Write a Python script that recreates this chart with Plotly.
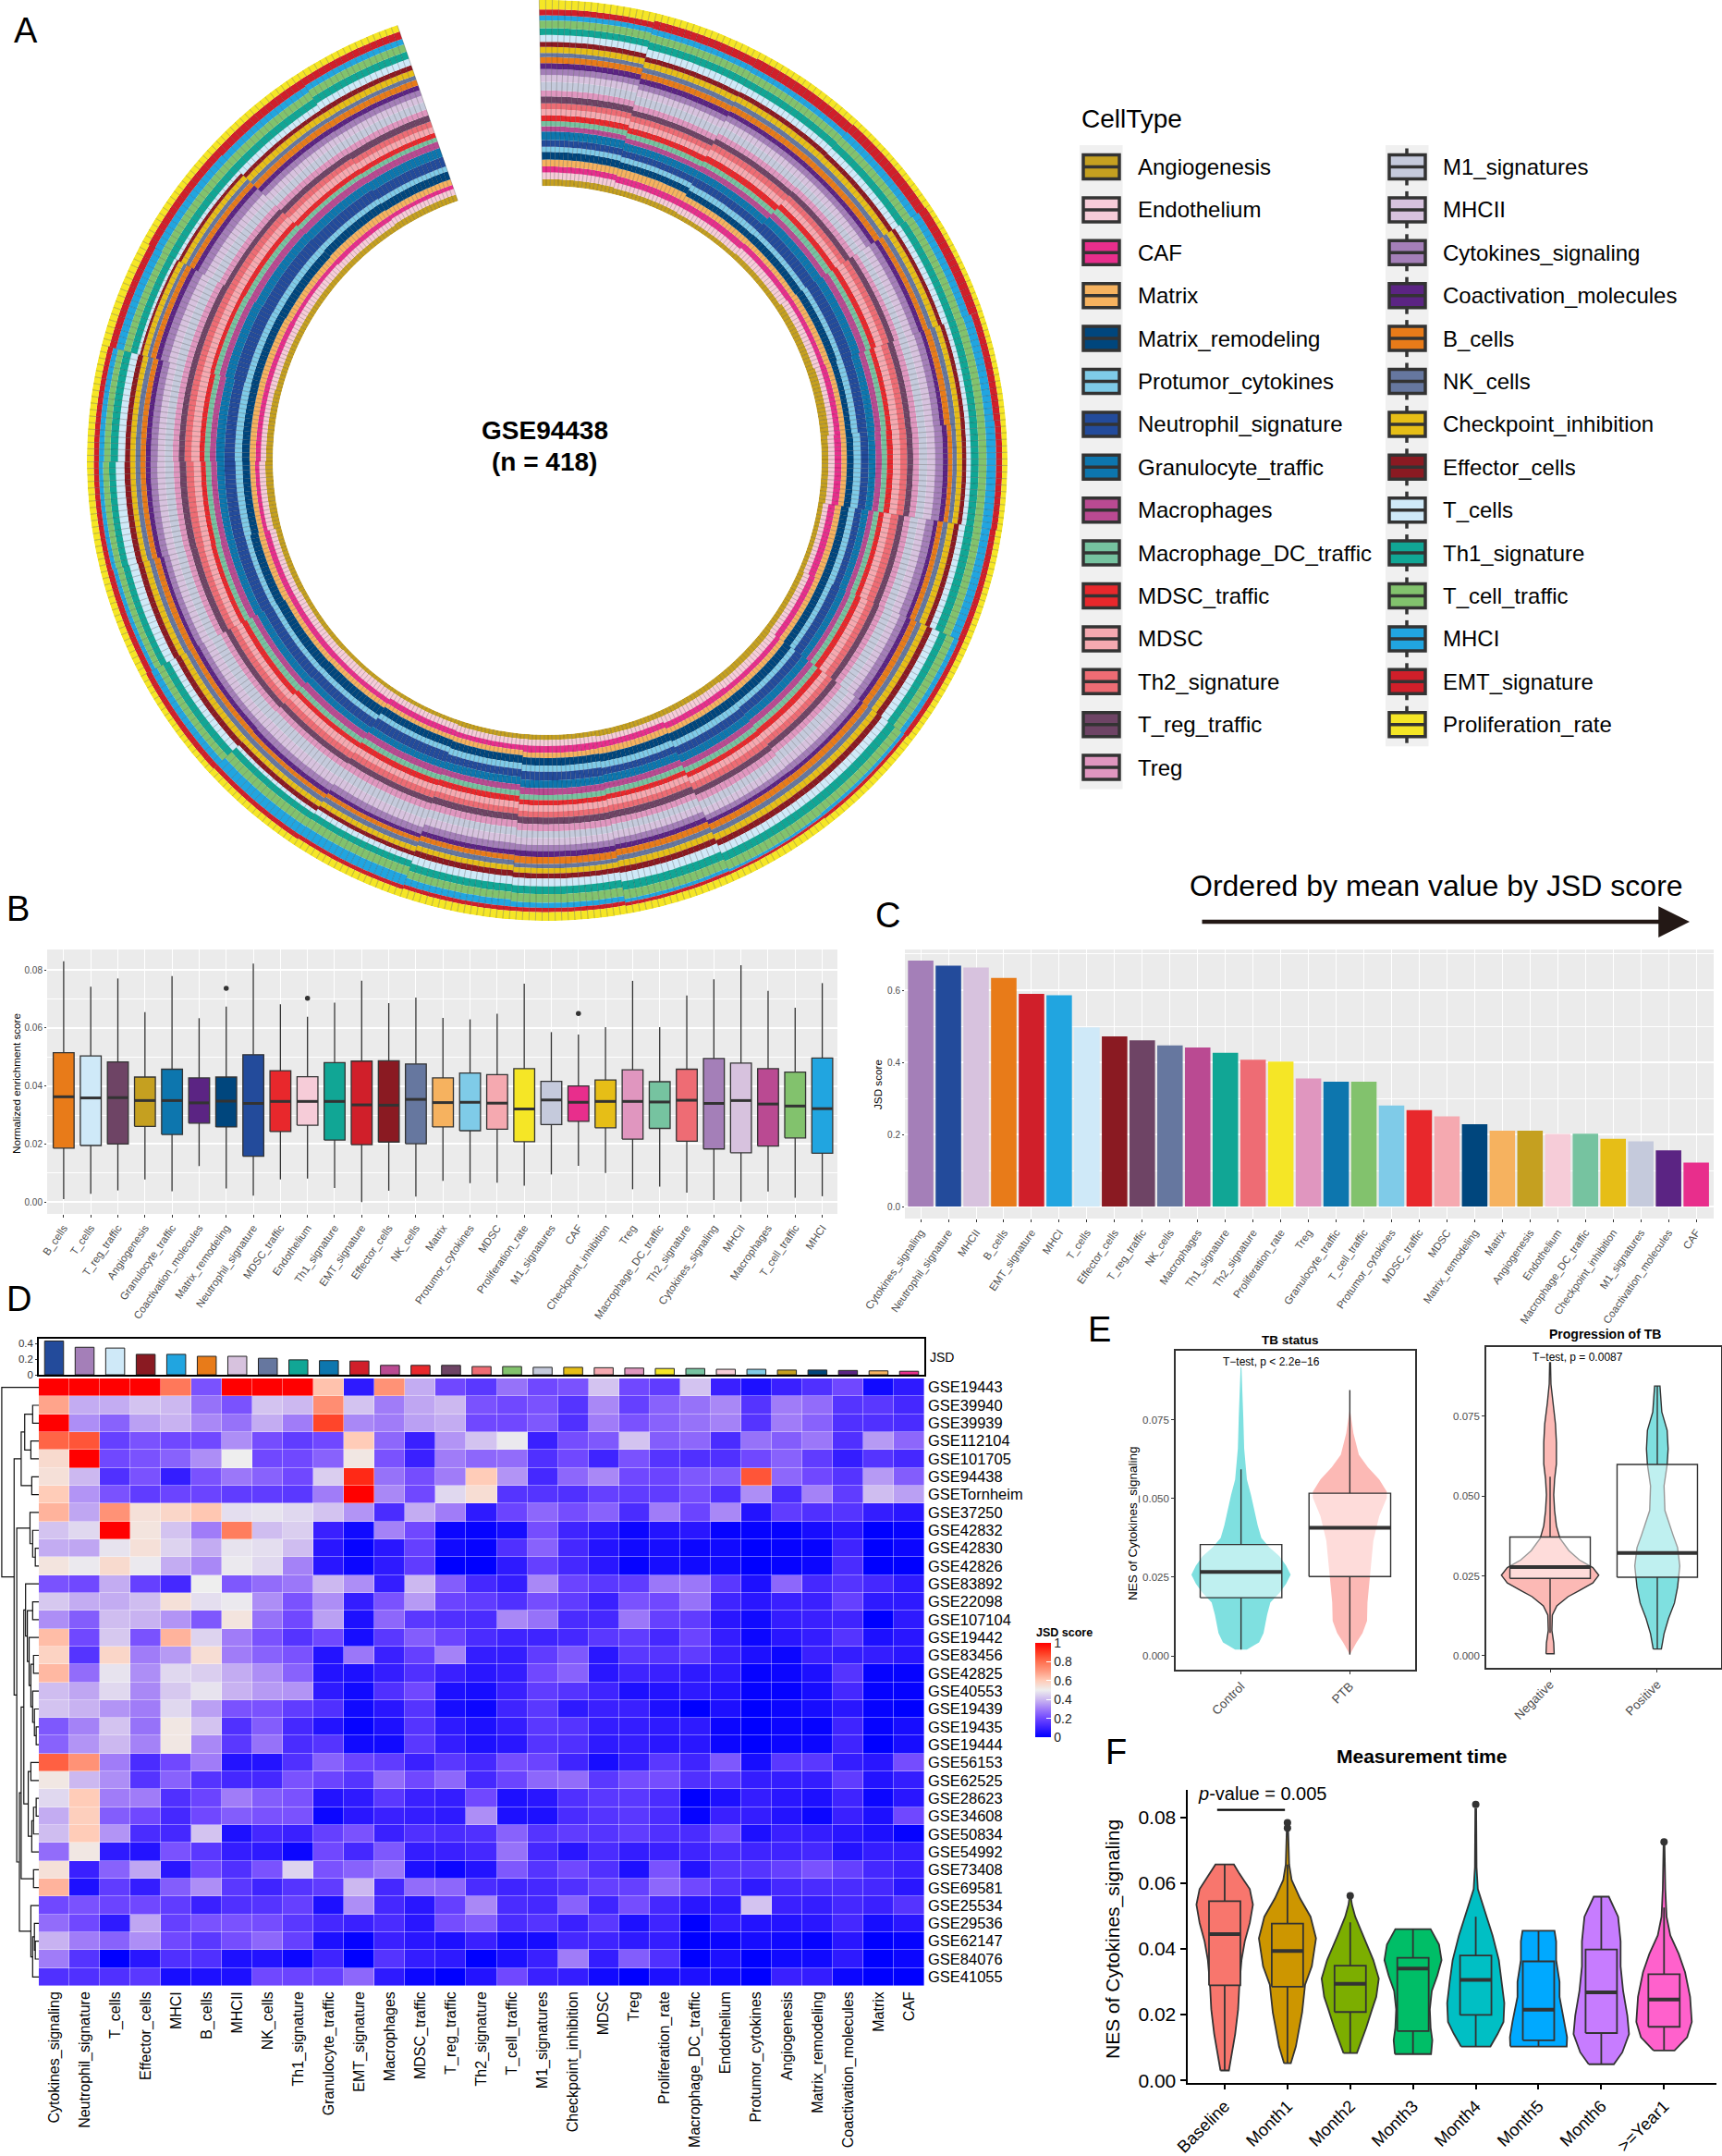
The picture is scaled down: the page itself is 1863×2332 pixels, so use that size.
import plotly.graph_objects as go

W, H = 1863, 2332
FONT = "Liberation Sans, Arial, sans-serif"

# ---------- colours ----------
COL = dict(
    Angiogenesis="#C5A020", Endothelium="#F6CCD8", CAF="#E82E8C", Matrix="#F6B25F",
    Matrix_remodeling="#00467D", Protumor_cytokines="#7FCBE8", Neutrophil_signature="#234B9B",
    Granulocyte_traffic="#0D76AE", Macrophages="#BA4A92", Macrophage_DC_traffic="#76C3A0",
    MDSC_traffic="#E8282C", MDSC="#F5A9B0", Th2_signature="#EE6C74", T_reg_traffic="#6E4465",
    Treg="#E096BF", M1_signatures="#C5CADC", MHCII="#D7C2DE", Cytokines_signaling="#A47FB8",
    Coactivation_molecules="#5B2483", B_cells="#E87B19", NK_cells="#66779F",
    Checkpoint_inhibition="#E6BE17", Effector_cells="#8A1A22", T_cells="#CFE9F8",
    Th1_signature="#11A695", T_cell_traffic="#82C26D", MHCI="#21A5E0",
    EMT_signature="#D01F2A", Proliferation_rate="#F5E626")

# ---------- panel A: band thickness estimated by eye for 24 angular sectors of the ring,
# inner to outer. The 418 individual samples cannot be read one by one, so every bar in a
# sector carries that sector's estimate; the sample-level jitter of the original is not reproduced.
ring_sectors = dict(
    Angiogenesis=[8,7,6,7,9,10,8,6,7,8,7,7,6,6,5,5,6,7,9,8,7,7,7,8],
    Endothelium=[8,7,8,9,8,6,7,6,7,8,8,6,7,7,7,9,8,7,7,6,7,8,7,7],
    CAF=[7,8,8,7,6,7,8,8,7,6,7,7,8,6,7,6,7,7,5,6,6,5,6,5],
    Matrix=[8,9,7,6,7,6,6,7,6,6,6,7,6,6,5,6,6,7,6,7,7,7,8,7],
    Matrix_remodeling=[9,8,8,9,9,7,8,9,9,10,10,9,9,9,9,11,11,10,9,9,9,10,10,10],
    Protumor_cytokines=[6,6,7,6,6,7,8,7,6,6,7,7,7,7,6,6,6,6,8,8,7,7,6,6],
    Neutrophil_signature=[8,8,10,13,13,11,9,8,10,10,10,8,10,9,12,11,12,13,13,12,14,14,13,12],
    Granulocyte_traffic=[10,9,9,10,10,9,8,8,8,9,9,9,9,9,8,8,9,9,9,10,10,10,10,11],
    Macrophages=[6,6,7,7,8,7,7,6,6,7,7,7,8,7,8,8,7,8,7,7,7,8,8,8],
    Macrophage_DC_traffic=[6,6,6,7,6,6,6,6,6,6,6,6,6,6,6,6,7,6,6,6,6,6,5,5],
    MDSC_traffic=[7,7,8,7,7,6,7,6,7,7,6,6,6,7,7,6,7,6,6,6,5,6,6,6],
    MDSC=[7,7,8,7,8,8,8,8,8,7,7,7,7,7,7,8,7,8,8,9,8,8,8,7],
    Th2_signature=[7,7,8,7,8,8,8,9,8,7,8,7,7,7,8,8,8,8,9,8,8,8,7,7],
    T_reg_traffic=[8,7,7,7,7,7,7,7,7,7,7,8,8,8,7,7,7,8,8,7,7,6,7,8],
    Treg=[7,7,7,7,6,7,7,7,7,7,8,7,8,8,8,7,7,7,7,7,7,7,7,7],
    M1_signatures=[10,10,9,8,8,9,9,9,10,10,9,8,8,9,11,12,12,10,10,9,10,10,9,9],
    MHCII=[8,8,8,8,9,9,9,9,9,9,8,8,8,9,10,11,10,9,9,8,9,9,8,8],
    Cytokines_signaling=[7,7,7,7,8,8,9,9,8,7,6,7,7,8,8,8,7,7,8,8,9,9,7,7],
    Coactivation_molecules=[7,7,6,6,6,5,6,5,6,5,5,6,7,6,5,6,6,5,6,6,6,6,6,6],
    B_cells=[7,7,7,7,6,7,5,6,7,7,7,7,8,6,5,5,6,7,6,6,6,6,7,7],
    NK_cells=[5,6,6,6,6,6,5,6,6,6,6,6,5,6,6,6,6,6,6,6,4,5,5,5],
    Checkpoint_inhibition=[7,7,7,7,7,6,6,7,7,7,7,7,6,6,6,6,7,7,6,6,6,6,7,7],
    Effector_cells=[6,6,6,6,5,5,5,6,7,7,7,7,6,7,5,6,7,7,7,6,3,4,5,6],
    T_cells=[8,9,8,8,7,5,5,7,9,9,9,10,9,9,6,4,8,10,10,8,3,4,7,8],
    Th1_signature=[8,9,9,9,9,9,9,10,9,10,10,10,9,9,8,8,9,8,8,9,8,9,9,9],
    T_cell_traffic=[9,9,9,9,9,9,9,9,9,9,10,10,10,9,10,10,8,7,7,7,8,9,9,9],
    MHCI=[6,7,7,9,9,10,11,10,6,4,3,4,6,8,12,12,8,5,5,6,9,9,8,7],
    EMT_signature=[7,10,12,12,11,8,7,7,6,4,3,4,5,5,5,6,7,7,6,6,8,9,10,9],
    Proliferation_rate=[11,9,8,7,6,6,6,7,7,8,9,9,10,10,9,8,7,8,8,8,9,8,8,8],
)
N_SAMPLES = 418
RING_START, RING_SPAN = -1.0, 342.0

legend_col1 = ["Angiogenesis","Endothelium","CAF","Matrix","Matrix_remodeling","Protumor_cytokines",
               "Neutrophil_signature","Granulocyte_traffic","Macrophages","Macrophage_DC_traffic",
               "MDSC_traffic","MDSC","Th2_signature","T_reg_traffic","Treg"]
legend_col2 = ["M1_signatures","MHCII","Cytokines_signaling","Coactivation_molecules","B_cells","NK_cells",
               "Checkpoint_inhibition","Effector_cells","T_cells","Th1_signature","T_cell_traffic","MHCI",
               "EMT_signature","Proliferation_rate"]

# ---------- panel B ----------
b_names = ["B_cells","T_cells","T_reg_traffic","Angiogenesis","Granulocyte_traffic","Coactivation_molecules",
           "Matrix_remodeling","Neutrophil_signature","MDSC_traffic","Endothelium","Th1_signature","EMT_signature",
           "Effector_cells","NK_cells","Matrix","Protumor_cytokines","MDSC","Proliferation_rate","M1_signatures",
           "CAF","Checkpoint_inhibition","Treg","Macrophage_DC_traffic","Th2_signature","Cytokines_signaling",
           "MHCII","Macrophages","T_cell_traffic","MHCI"]
b_high = [.083,.0743,.0771,.0655,.0779,.0634,.0674,.0822,.0682,.0639,.0688,.0763,.0686,.0705,.0635,.063,.0649,.0753,.0586,.0578,.0603,.0763,.0603,.0712,.0768,.0817,.0728,.067,.0755]
b_q3 = [.0515,.0504,.0483,.0431,.0458,.0428,.0431,.0508,.0453,.0432,.0481,.0486,.0487,.0476,.0428,.0445,.0439,.046,.0416,.04,.0421,.0456,.0415,.0458,.0495,.0479,.046,.0448,.0497]
b_med = [.0363,.0359,.036,.035,.035,.0342,.0348,.034,.0347,.0347,.0347,.0335,.0334,.0354,.0343,.0344,.0341,.0321,.0352,.0344,.0347,.0347,.0345,.0351,.034,.035,.0338,.0331,.0322]
b_q1 = [.0186,.0195,.02,.0261,.0233,.0272,.0259,.0158,.0243,.0265,.0214,.0198,.0207,.0201,.0259,.0246,.0251,.0208,.0267,.0278,.0256,.0217,.0254,.021,.0183,.017,.0193,.0221,.0168]
b_low = [.001,.0028,.004,.0078,.0037,.0124,.0047,.0022,.0078,.0081,.0048,0,.0039,.0019,.0073,.0065,.0067,.0056,.0095,.0125,.01,.0044,.0053,.0032,.0007,.0001,.0036,.0015,.002]
b_outlier_names = ["Matrix_remodeling","Endothelium","CAF"]
b_outlier_vals = [.0737,.0703,.065]

# ---------- panel C ----------
c_names = ["Cytokines_signaling","Neutrophil_signature","MHCII","B_cells","EMT_signature","MHCI","T_cells",
           "Effector_cells","T_reg_traffic","NK_cells","Macrophages","Th1_signature","Th2_signature",
           "Proliferation_rate","Treg","Granulocyte_traffic","T_cell_traffic","Protumor_cytokines","MDSC_traffic",
           "MDSC","Matrix_remodeling","Matrix","Angiogenesis","Endothelium","Macrophage_DC_traffic",
           "Checkpoint_inhibition","M1_signatures","Coactivation_molecules","CAF"]
c_vals = [.682,.668,.663,.634,.59,.586,.497,.472,.461,.447,.441,.426,.407,.402,.355,.346,.346,.28,.267,.25,.228,.21,.21,.201,.202,.188,.181,.156,.122]

# ---------- panel D ----------
d_cols = ["Cytokines_signaling","Neutrophil_signature","T_cells","Effector_cells","MHCI","B_cells","MHCII","NK_cells",
          "Th1_signature","Granulocyte_traffic","EMT_signature","Macrophages","MDSC_traffic","T_reg_traffic",
          "Th2_signature","T_cell_traffic","M1_signatures","Checkpoint_inhibition","MDSC","Treg","Proliferation_rate",
          "Macrophage_DC_traffic","Endothelium","Protumor_cytokines","Angiogenesis","Matrix_remodeling",
          "Coactivation_molecules","Matrix","CAF"]
d_rows = ["GSE19443","GSE39940","GSE39939","GSE112104","GSE101705","GSE94438","GSETornheim","GSE37250","GSE42832",
          "GSE42830","GSE42826","GSE83892","GSE22098","GSE107104","GSE19442","GSE83456","GSE42825","GSE40553",
          "GSE19439","GSE19435","GSE19444","GSE56153","GSE62525","GSE28623","GSE34608","GSE50834","GSE54992",
          "GSE73408","GSE69581","GSE25534","GSE29536","GSE62147","GSE84076","GSE41055"]
d_z = [
 [1,1,1,1,.78,.22,1,1,1,.62,.08,.72,.38,.2,.16,.28,.2,.22,.42,.2,.17,.42,.1,.05,.1,.14,.2,.03,.08],
 [.68,.38,.38,.42,.4,.28,.22,.42,.4,.73,.42,.3,.37,.4,.22,.2,.22,.15,.32,.18,.25,.28,.32,.15,.3,.27,.15,.16,.12],
 [1,.33,.25,.36,.39,.32,.28,.38,.3,.88,.32,.3,.36,.38,.2,.2,.23,.14,.3,.22,.25,.28,.31,.15,.3,.25,.14,.14,.13],
 [.82,.85,.18,.22,.2,.2,.33,.21,.17,.2,.6,.26,.1,.34,.42,.49,.1,.21,.23,.42,.24,.26,.13,.28,.24,.29,.14,.35,.26],
 [.56,1,.2,.22,.25,.33,.5,.2,.2,.25,.52,.22,.1,.3,.26,.27,.14,.2,.11,.22,.15,.14,.14,.2,.25,.17,.09,.15,.12],
 [.54,.4,.14,.22,.09,.22,.29,.25,.2,.44,.93,.28,.21,.3,.6,.34,.12,.26,.32,.2,.19,.23,.24,.85,.26,.2,.15,.35,.24],
 [.6,.34,.22,.17,.19,.19,.17,.17,.16,.3,1,.32,.2,.46,.55,.15,.15,.14,.18,.17,.17,.21,.14,.33,.13,.31,.17,.41,.36],
 [.65,.37,.72,.54,.57,.61,.47,.48,.46,.42,.34,.13,.38,.3,.08,.19,.26,.21,.25,.13,.3,.19,.32,.06,.17,.14,.15,.09,.07],
 [.42,.46,1,.53,.42,.3,.77,.41,.44,.1,.03,.31,.2,.02,.01,.04,.21,.11,.08,.02,.06,.07,.01,.01,.01,.04,.07,0,.01],
 [.38,.37,.48,.54,.45,.38,.48,.47,.41,.07,.01,.07,.18,.03,.01,.14,.25,.12,.06,.03,.04,.02,.03,0,.01,.01,.11,0,.02],
 [.53,.49,.56,.49,.38,.32,.49,.46,.31,.07,.02,.08,.17,0,0,.08,.18,.12,.07,.01,.04,.03,.03,0,.01,.02,.13,0,0],
 [.22,.2,.38,.18,.12,.5,.23,.27,.29,.4,.33,.09,.4,.24,.12,.09,.32,.19,.16,.17,.29,.29,.16,.05,.26,.12,.15,.12,.08],
 [.43,.38,.38,.41,.54,.47,.49,.33,.22,.33,.09,.22,.35,.19,.17,.14,.21,.17,.1,.22,.2,.28,.11,.07,.1,.1,.18,.08,.08],
 [.33,.24,.41,.39,.34,.23,.53,.28,.2,.36,.05,.26,.16,.14,.13,.32,.28,.13,.12,.29,.18,.17,.07,.03,.09,.1,.11,0,.08],
 [.63,.2,.43,.22,.65,.45,.3,.22,.15,.2,.04,.16,.24,.19,.13,.11,.11,.12,.16,.17,.12,.19,.09,.02,.07,.09,.15,.05,.07],
 [.58,.15,.57,.3,.35,.55,.3,.25,.22,.06,.29,.1,.18,.31,.09,.09,.17,.23,.07,.16,.15,.17,.1,.05,.02,.1,.09,.09,.07],
 [.64,.27,.48,.33,.46,.44,.38,.33,.25,.06,.05,.09,.14,.1,.07,.09,.2,.25,.07,.11,.1,.08,.08,.01,.02,.05,.15,.01,.01],
 [.41,.37,.46,.32,.43,.48,.39,.35,.34,.08,.03,.14,.2,.05,.04,.1,.17,.15,.11,.05,.06,.08,.06,.01,.01,.04,.12,.01,.01],
 [.42,.39,.34,.3,.46,.36,.22,.22,.17,.14,.03,.07,.15,.04,.02,.11,.16,.08,.1,.1,.05,0,.05,0,.02,.04,.07,.01,0],
 [.23,.31,.42,.28,.52,.42,.14,.24,.12,.06,.01,.05,.15,.08,.05,.09,.16,.15,.09,.09,.08,.08,.02,0,.02,.01,.11,.01,.04],
 [.25,.34,.4,.31,.52,.32,.16,.28,.13,.15,.03,.03,.16,.09,.05,.07,.15,.14,.08,.09,.07,.07,.02,0,.02,.02,.11,0,.04],
 [.83,.72,.3,.13,.2,.3,.06,.06,.14,.25,.19,.17,.1,.16,.12,.21,.19,.11,.04,.09,.16,.11,.23,.04,.16,.16,.09,.07,.21],
 [.52,.4,.33,.15,.25,.15,.12,.12,.22,.19,.15,.27,.2,.26,.12,.19,.26,.27,.16,.21,.21,.14,.15,.09,.09,.09,.17,.06,.09],
 [.46,.6,.3,.3,.14,.19,.3,.24,.22,.06,.08,.16,.1,.09,.2,.05,.07,.14,.16,.16,.13,0,.05,.09,.07,.05,.11,.02,.07],
 [.38,.59,.24,.2,.12,.2,.24,.22,.22,.02,.07,.1,.09,.08,.33,.05,.05,.13,.15,.16,.13,.01,.1,.09,.06,.02,.1,.05,.2],
 [.41,.6,.34,.13,.12,.42,.05,.12,.1,.18,.22,.1,.14,.13,.14,.25,.15,.17,.15,.17,.14,.13,.2,.05,.1,.09,.07,.05,.01],
 [.27,.52,.08,.06,.22,.16,.09,.08,.02,.2,.12,.23,.09,.1,.12,.28,.12,.07,.13,.09,.1,.11,.13,.11,.11,.12,.06,.09,.09],
 [.54,.1,.25,.37,.07,.2,.14,.22,.45,.22,.25,.29,.05,.02,.06,.23,.15,.2,.14,.05,.22,.06,.15,.15,.18,.22,.18,.12,.1],
 [.65,.05,.17,.09,.24,.33,.16,.11,.15,.17,.4,.12,.27,.26,.13,.11,.12,.14,.18,.18,.26,.2,.14,.08,.12,.13,.13,.12,.07],
 [.2,.22,.19,.2,.17,.1,.14,.15,.18,.05,.33,.12,.07,.18,.32,.13,.12,.25,.11,.21,.12,.07,.08,.42,.1,.09,.12,.1,.15],
 [.27,.2,.08,.37,.18,.22,.22,.21,.16,.12,.1,.13,.07,.21,.24,.13,.15,.1,.16,.05,.11,0,.09,.06,.06,.07,.12,.04,.07],
 [.39,.3,.25,.33,.2,.16,.21,.26,.18,.05,.01,.1,.07,.05,.1,.04,.04,.12,.11,.08,.09,0,.02,.04,.03,.01,.07,0,.01],
 [.3,.15,0,.07,.14,.14,.05,.06,.02,.11,0,.15,.09,.08,0,.05,.1,.3,.09,.24,.14,0,.05,0,.03,.03,.08,0,.02],
 [.14,.14,.14,.16,.04,.05,.05,.2,.19,.18,.26,.08,.02,0,.06,.2,.1,.09,.03,0,.05,.05,.03,0,.1,.09,.02,0,0],
]
d_top_vals = [.43,.35,.34,.26,.26,.235,.235,.21,.19,.18,.175,.12,.12,.12,.105,.105,.095,.095,.09,.085,.08,.08,.07,.07,.06,.06,.055,.05,.045]
d_top_colors = ["Neutrophil_signature","Cytokines_signaling","T_cells","Effector_cells","MHCI","B_cells","MHCII","NK_cells",
                "Th1_signature","Granulocyte_traffic","EMT_signature","Macrophages","MDSC_traffic","T_reg_traffic",
                "Th2_signature","T_cell_traffic","M1_signatures","Checkpoint_inhibition","MDSC","Treg","Proliferation_rate",
                "Macrophage_DC_traffic","Endothelium","Protumor_cytokines","Angiogenesis","Matrix_remodeling",
                "Coactivation_molecules","Matrix","CAF"]
# (a, b, height): a and b are row numbers, or 34+n for the n-th merge
dendro_merges = [(1,2,7),(3,4,9),(34,35,16),(5,6,8),(36,37,20),(9,10,4),(8,39,7),(7,40,10),(19,20,3),(18,42,5),
                 (17,43,7),(15,16,6),(44,45,9),(14,46,11),(12,13,7),(47,48,13),(11,49,15),(23,24,3),(25,51,6),
                 (26,52,8),(21,22,9),(54,53,12),(50,55,17),(27,28,6),(56,57,20),(31,32,4),(30,59,5),(33,60,7),
                 (29,61,9),(58,62,22),(41,63,25),(38,64,28),(0,65,42)]
heat_scale = [[0,"#0000ff"],[.1,"#3a20ff"],[.2,"#7048ff"],[.3,"#a07cf8"],[.4,"#ccb8f0"],[.5,"#eeeeee"],
              [.6,"#ffccb8"],[.7,"#ff9a80"],[.8,"#ff7050"],[.9,"#ff3a20"],[1,"#ff0000"]]

# ---------- panel E ----------
e1_names = ["Control","PTB"]
e2_names = ["Negative","Positive"]
control_y = [.002,.0043,.0072,.0131,.017,.02,.0229,.0258,.0287,.0317,.0346,.0375,.0415,.0463,.0512,.0561,.0659,.0757,.0855,.0918]
control_w = [.054,.166,.207,.24,.27,.353,.415,.456,.415,.353,.257,.187,.153,.124,.091,.054,.029,.021,.012,.004]
ptb_y = [.0004,.0043,.0072,.0111,.017,.0268,.0366,.0444,.0503,.0522,.0561,.06,.0639,.0708,.0776]
ptb_w = [0,.062,.116,.158,.162,.187,.216,.27,.34,.34,.27,.166,.083,.033,.004]
neg_y = [.0006,.004,.0079,.0127,.0156,.0185,.0204,.0228,.0252,.0276,.03,.0329,.0368,.0407,.0455,.0504,.0552,.0601,.0668,.0726,.0793,.0851,.0918]
neg_w = [.038,.034,.017,.021,.063,.168,.273,.399,.454,.399,.273,.176,.092,.059,.042,.034,.042,.059,.059,.05,.025,.008,.004]
pos_y = [.0021,.0069,.0117,.0165,.0214,.0281,.0339,.0378,.0455,.0532,.0599,.0648,.0706,.0764,.0845]
pos_w = [.038,.063,.105,.16,.189,.21,.189,.147,.071,.063,.092,.101,.092,.042,.025]
e1_box = dict(low=[.002,.0004],q1=[.0185,.0252],med=[.0267,.0407],q3=[.0354,.0517],high=[.0593,.0845])
e2_box = dict(low=[.0071,.0021],q1=[.0242,.0246],med=[.0278,.0322],q3=[.0372,.0599],high=[.0561,.0845])

# ---------- panel F ----------
f_names = ["Baseline","Month1","Month2","Month3","Month4","Month5","Month6",">=Year1"]
f_colors = ["#F8766D","#CD9600","#7CAE00","#00BE67","#00BFC4","#00A9FF","#C77CFF","#FF61CC"]
f_y = [
 [.003,.0066,.0141,.0216,.0291,.0366,.0423,.0479,.0535,.0582,.0629,.0657],
 [.0052,.0103,.016,.0207,.0291,.0347,.0432,.0498,.0554,.061,.0657,.0789],
 [.0083,.016,.0216,.0254,.031,.0366,.0441,.0498,.0535,.0563],
 [.008,.0122,.016,.0216,.0272,.0319,.0366,.0413,.046],
 [.0103,.0141,.0178,.0235,.03,.0366,.0441,.0516,.0582,.0648,.0826],
 [.0103,.0131,.0178,.0254,.03,.0366,.0423,.0455],
 [.0049,.0085,.0141,.0197,.0272,.0347,.0423,.0498,.0559],
 [.0091,.0131,.0178,.0254,.0329,.0385,.0441,.0498,.0582,.0723]]
f_w = [
 [.067,.10,.167,.214,.234,.268,.32,.40,.45,.40,.234,.147],
 [.054,.134,.188,.234,.281,.388,.455,.368,.2,.067,.027,.007],
 [.107,.255,.348,.415,.455,.368,.2,.08,.027,.007],
 [.288,.308,.281,.268,.30,.388,.455,.415,.281],
 [.234,.348,.442,.455,.415,.368,.268,.147,.033,.013,.007],
 [.449,.455,.415,.335,.335,.281,.281,.255],
 [.2,.335,.442,.415,.348,.308,.308,.268,.12],
 [.167,.368,.442,.415,.335,.234,.1,.04,.02,.007]]
f_low = [.003,.0052,.0083,.008,.0103,.0103,.0049,.0091]
f_q1 = [.0289,.0285,.0208,.015,.0199,.0122,.0144,.0163]
f_med = [.0445,.0394,.0294,.034,.0306,.0215,.0268,.0246]
f_q3 = [.0545,.0477,.0349,.0373,.038,.0362,.0398,.0323]
f_high = [.0657,.0657,.0481,.046,.0498,.0455,.0559,.0526]
f_out_x = [1,1,2,4,7]
f_out_y = [.0784,.0768,.0562,.084,.0726]
f_bracket_x = [-.12,.96]
f_bracket_y = [.0823,.0823]

for row in d_z:
    assert len(row) == 29
assert len(d_z) == 34 and len(d_rows) == 34
for v in ring_sectors.values():
    assert len(v) == 24

# ---------- helpers ----------
def px(x): return x / W
def py(y): return 1 - y / H

traces, shapes, notes = [], [], []
layout = {}

def axes(n, x0, x1, y0, y1, xr, yr, xkw=None, ykw=None):
    s = "" if n == 1 else str(n)
    xd = dict(domain=[px(x0), px(x1)], range=xr, anchor="y"+s, zeroline=False, showgrid=False)
    yd = dict(domain=[py(y1), py(y0)], range=yr, anchor="x"+s, zeroline=False, showgrid=False)
    xd.update(xkw or {}); yd.update(ykw or {})
    layout["xaxis"+s] = xd
    layout["yaxis"+s] = yd
    return "x"+s, "y"+s

def text(x, y, t, size, color="black", anchor="center", angle=0, bold=False):
    notes.append(dict(x=px(x), y=py(y), xref="paper", yref="paper", text=("<b>%s</b>" % t) if bold else t,
                      showarrow=False, xanchor=anchor, yanchor="middle", textangle=angle,
                      font=dict(size=size, color=color, family=FONT)))

def line_tr(xa, ya, x, y, color="#333333", width=1.5):
    traces.append(go.Scatter(x=x, y=y, xaxis=xa, yaxis=ya, mode="lines", showlegend=False, hoverinfo="skip",
                             line=dict(color=color, width=width)))

def box(xa, ya, c, w, low, q1, med, q3, high, fill, lc="#333333", lw=1.4, mw=3):
    line_tr(xa, ya, [c, c, None, c, c], [low, q1, None, q3, high], lc, lw)
    traces.append(go.Scatter(x=[c-w, c+w, c+w, c-w, c-w], y=[q1, q1, q3, q3, q1], xaxis=xa, yaxis=ya, mode="lines",
                             fill="toself", fillcolor=fill, line=dict(color=lc, width=lw),
                             showlegend=False, hoverinfo="skip"))
    line_tr(xa, ya, [c-w, c+w], [med, med], lc, mw)

def violin(xa, ya, c, ys, ws, fill, lc=None, lw=0):
    xs = [c-w for w in ws] + [c+w for w in reversed(ws)] + [c-ws[0]]
    yy = list(ys) + list(reversed(ys)) + [ys[0]]
    traces.append(go.Scatter(x=xs, y=yy, xaxis=xa, yaxis=ya, mode="lines", fill="toself", fillcolor=fill,
                             line=dict(color=lc or fill, width=lw), showlegend=False, hoverinfo="skip"))

# ---------- A ----------
bar_w = RING_SPAN / N_SAMPLES
thetas = [RING_START + (i + .5) * bar_w for i in range(N_SAMPLES)]
names = list(ring_sectors)
n_sect = 24
sect_tot = [sum(ring_sectors[k][s] for k in names) for s in range(n_sect)]
for k in names:
    traces.append(go.Barpolar(
        r=[ring_sectors[k][i * n_sect // N_SAMPLES] / sect_tot[i * n_sect // N_SAMPLES] for i in range(N_SAMPLES)],
        theta=thetas, width=bar_w, marker=dict(color=COL[k], line=dict(width=0)), name=k,
        showlegend=False, hoverinfo="skip", subplot="polar"))
sep_t, sep_r = [], []
for i in range(N_SAMPLES + 1):
    t = RING_START + i * bar_w
    sep_t += [t, t, None]
    sep_r += [0, 1, None]
traces.append(go.Scatterpolar(r=sep_r, theta=sep_t, mode="lines", line=dict(color="rgba(20,20,20,.5)", width=.5),
                              showlegend=False, hoverinfo="skip", subplot="polar"))
layout["polar"] = dict(domain=dict(x=[px(94), px(1090)], y=[py(996), 1]), hole=.596, bgcolor="rgba(0,0,0,0)",
                       barmode="stack", bargap=0,
                       radialaxis=dict(visible=False, range=[0, 1]),
                       angularaxis=dict(visible=False, direction="clockwise", rotation=90))
text(589, 465, "GSE94438", 28, bold=True)
text(589, 499, "(n = 418)", 28, bold=True)

# legend of A
text(1168, 129, "CellType", 28, anchor="left")
RH = 46.4
def rect(x0, y0, x1, y1, **kw):
    shapes.append(dict(type="rect", xref="paper", yref="paper", x0=px(x0), x1=px(x1), y0=py(y1), y1=py(y0), **kw))
def pline(x0, y0, x1, y1, color, width):
    shapes.append(dict(type="line", xref="paper", yref="paper", x0=px(x0), x1=px(x1), y0=py(y0), y1=py(y1),
                       line=dict(color=color, width=width)))
for col_names, bx, lx, whisk in ((legend_col1, 1170, 1229, False), (legend_col2, 1501, 1559, True)):
    rect(bx - 2, 157, bx + 44.5, 181 + RH * (len(col_names) - 1) + 23, fillcolor="#F0F0F0", line=dict(width=0), layer="below")
    for i, nm in enumerate(col_names):
        cy = 180.5 + RH * i
        if whisk:
            pline(bx + 21, cy - 20, bx + 21, cy + 20, "#333333", 3.5)
        rect(bx + 2, cy - 13, bx + 41, cy + 13, fillcolor=COL[nm], line=dict(color="#333333", width=3.5))
        pline(bx + 2, cy, bx + 41, cy, "#333333", 3.5)
        text(lx, cy, nm, 24, anchor="left")

# ---------- B ----------
ggtick = dict(size=10, color="#4D4D4D", family=FONT)
xa, ya = axes(1, 51, 906, 1027, 1313, [-.61, 28.56], [-.0041, .0871],
    dict(tickmode="array", tickvals=list(range(29)), ticktext=b_names, tickangle=-55, showgrid=True, gridcolor="white",
         gridwidth=1.2, ticks="outside", ticklen=3, tickcolor="#333333", tickfont=dict(size=11.5, color="#4D4D4D", family=FONT)),
    dict(tickmode="array", tickvals=[0, .02, .04, .06, .08], ticktext=["0.00", "0.02", "0.04", "0.06", "0.08"],
         showgrid=True, gridcolor="white", gridwidth=1.6, ticks="outside", ticklen=2, tickcolor="#333333", tickfont=ggtick,
         minor=dict(tickvals=[.01, .03, .05, .07], showgrid=True, gridcolor="white", gridwidth=.8, ticks="")))
layout["plot_bgcolor"] = "#EBEBEB"
for i, nm in enumerate(b_names):
    box(xa, ya, i, .385, b_low[i], b_q1[i], b_med[i], b_q3[i], b_high[i], COL[nm], "#333333", 1.3, 3)
traces.append(go.Scatter(x=[b_names.index(n) for n in b_outlier_names], y=b_outlier_vals, xaxis=xa, yaxis=ya, mode="markers",
                         marker=dict(color="#333333", size=5.5), showlegend=False, hoverinfo="skip"))
text(17, 1172, "Normalized enrichment score", 11.7, angle=-90)

# ---------- C ----------
xa, ya = axes(2, 979, 1854, 1027, 1318, [-.57, 28.63], [-.0333, .7128],
    dict(tickmode="array", tickvals=list(range(29)), ticktext=c_names, tickangle=-55, showgrid=True, gridcolor="white",
         gridwidth=1.2, ticks="outside", ticklen=3, tickcolor="#333333", tickfont=dict(size=11.5, color="#4D4D4D", family=FONT)),
    dict(tickmode="array", tickvals=[0, .2, .4, .6], ticktext=["0.0", "0.2", "0.4", "0.6"], showgrid=True, gridcolor="white",
         gridwidth=1.6, ticks="outside", ticklen=2, tickcolor="#333333", tickfont=ggtick,
         minor=dict(tickvals=[.1, .3, .5, .7], showgrid=True, gridcolor="white", gridwidth=.8, ticks="")))
traces.append(go.Bar(x=list(range(29)), y=c_vals, xaxis=xa, yaxis=ya, width=.92, showlegend=False, hoverinfo="skip",
                     marker=dict(color=[COL[n] for n in c_names], line=dict(width=0))))
text(949, 1173, "JSD score", 11.7, angle=-90)
text(1554, 958, "Ordered by mean value by JSD score", 32)
notes.append(dict(x=px(1828), y=py(997), ax=1299-1828, ay=0, xref="paper", yref="paper", axref="pixel", ayref="pixel",
                  text="", showarrow=True, arrowhead=2, arrowsize=1.5, arrowwidth=4.5, arrowcolor="#231815"))

# ---------- D ----------
xa, ya = axes(3, 42, 1000, 1448, 1487, [-.5, 28.5], [0, .459],
    dict(showticklabels=False, ticks="", showline=True, linecolor="black", linewidth=1.5, mirror=True),
    dict(tickmode="array", tickvals=[0, .2, .4], ticktext=["0", "0.2", "0.4"], ticks="outside", ticklen=2,
         tickcolor="#333333", tickfont=dict(size=11.5, color="#333333", family=FONT),
         showline=True, linecolor="black", linewidth=1.5, mirror=True))
rect(42, 1448, 1000, 1487, fillcolor="white", line=dict(width=0), layer="below")
traces.append(go.Bar(x=list(range(29)), y=d_top_vals, xaxis=xa, yaxis=ya, width=.62, showlegend=False, hoverinfo="skip",
                     marker=dict(color=[COL[n] for n in d_top_colors], line=dict(color="#222222", width=1))))
text(1004, 1468, "JSD", 14, anchor="left")

xa, ya = axes(4, 42, 1000, 1491, 2148, [-.5, 28.5], [33.5, -.5],
    dict(tickmode="array", tickvals=list(range(29)), ticktext=d_cols, tickangle=-90, ticks="", ticklabelstandoff=2,
         tickfont=dict(size=16, color="black", family=FONT)),
    dict(tickmode="array", tickvals=list(range(34)), ticktext=d_rows, side="right", ticks="", ticklabelstandoff=3,
         tickfont=dict(size=16.5, color="black", family=FONT)))
rect(0, 1491, 1000, 2148, fillcolor="white", line=dict(width=0), layer="below")
traces.append(go.Heatmap(z=d_z, x=list(range(29)), y=list(range(34)), xaxis=xa, yaxis=ya, zmin=0, zmax=1, colorscale=heat_scale,
                         hoverinfo="skip", xgap=.4, ygap=.4,
                         colorbar=dict(x=px(1119.5), xanchor="left", y=py(1879), yanchor="bottom", len=102/H, lenmode="fraction",
                                       thickness=16.5, thicknessmode="pixels", xpad=0, ypad=0, outlinewidth=0,
                                       tickmode="array", tickvals=[0, .2, .4, .6, .8, 1], ticktext=["0", "0.2", "0.4", "0.6", "0.8", "1"],
                                       ticks="inside", ticklen=5, tickcolor="white",
                                       tickfont=dict(size=14, color="#222222", family=FONT))))
text(1119, 1766, "JSD score", 12.5, anchor="left", bold=True)

xa5, ya5 = axes(5, 0, 42, 1491, 2148, [44, 0], [33.5, -.5], dict(visible=False), dict(visible=False))
nodes = {i: (float(i), 0.0) for i in range(34)}
dx, dy = [], []
for j, (a, b, h) in enumerate(dendro_merges):
    ya_, ha = nodes[a]
    yb_, hb = nodes[b]
    dx += [ha, h, h, hb, None]
    dy += [ya_, ya_, yb_, yb_, None]
    nodes[34 + j] = ((ya_ + yb_) / 2, float(h))
line_tr(xa5, ya5, dx, dy, "#111111", 1.2)

# ---------- E ----------
etick = dict(size=11.5, color="#4D4D4D", family=FONT)
def e_axes(n, x0, x1, y0, y1, yr, xr, labels):
    return axes(n, x0, x1, y0, y1, xr, yr,
        dict(tickmode="array", tickvals=[0, 1], ticktext=labels, tickangle=-45, ticks="outside", ticklen=3, tickcolor="#333333",
             tickfont=dict(size=13.5, color="#4D4D4D", family=FONT), showline=True, linecolor="#333333", linewidth=1.6, mirror=True),
        dict(tickmode="array", tickvals=[0, .025, .05, .075], ticktext=["0.000", "0.025", "0.050", "0.075"], ticks="outside", ticklen=3,
             tickcolor="#333333", tickfont=etick, showline=True, linecolor="#333333", linewidth=1.6, mirror=True))
rect(1272, 1461, 1531, 1806, fillcolor="white", line=dict(width=0), layer="below")
rect(1608, 1457, 1862, 1804, fillcolor="white", line=dict(width=0), layer="below")
rect(1284, 1936, 1857, 2253, fillcolor="white", line=dict(width=0), layer="below")

xa, ya = e_axes(6, 1272, 1531, 1461, 1806, [-.0044, .097], [-.6, 1.6], e1_names)
violin(xa, ya, 0, control_y, control_w, "#7FE0E0")
violin(xa, ya, 1, ptb_y, ptb_w, "#FCB9B5")
for i in range(2):
    box(xa, ya, i, .375, e1_box["low"][i], e1_box["q1"][i], e1_box["med"][i], e1_box["q3"][i], e1_box["high"][i],
        "rgba(255,255,255,.5)", "#333333", 1.4, 4)
text(1321, 1473, "T\u2212test, p &lt; 2.2e\u221216", 12, anchor="left")
text(1396, 1449, "TB status", 13.5, bold=True)
text(1225, 1648, "NES of Cytokines_signaling", 13.5, angle=-90)

xa, ya = e_axes(7, 1608, 1862, 1457, 1804, [-.0038, .0967], [-.595, 1.595], e2_names)
violin(xa, ya, 0, neg_y, neg_w, "#FCB9B5", "#333333", 1.4)
violin(xa, ya, 1, pos_y, pos_w, "#7FE0E0", "#333333", 1.4)
for i in range(2):
    box(xa, ya, i, .375, e2_box["low"][i], e2_box["q1"][i], e2_box["med"][i], e2_box["q3"][i], e2_box["high"][i],
        "rgba(255,255,255,.5)", "#333333", 1.4, 4)
text(1656, 1468, "T\u2212test, p = 0.0087", 12, anchor="left")
text(1736, 1443, "Progression of TB", 14, bold=True)

# ---------- F ----------
xa, ya = axes(8, 1284.5, 1857, 1936, 2253, [-.596, 7.835], [-.0008, .0884],
    dict(tickmode="array", tickvals=list(range(8)), ticktext=f_names, tickangle=-45, ticks="outside", ticklen=5, tickcolor="black",
         tickwidth=1.5, tickfont=dict(size=18.5, color="black", family=FONT), showline=True, linecolor="black", linewidth=2),
    dict(tickmode="array", tickvals=[0, .02, .04, .06, .08], ticktext=["0.00", "0.02", "0.04", "0.06", "0.08"], ticks="outside",
         ticklen=6, tickcolor="black", tickwidth=1.5, tickfont=dict(size=21, color="black", family=FONT),
         showline=True, linecolor="black", linewidth=2))
for i in range(8):
    violin(xa, ya, i, f_y[i], f_w[i], f_colors[i], "#333333", 1.8)
    box(xa, ya, i, .25, f_low[i], f_q1[i], f_med[i], f_q3[i], f_high[i], f_colors[i], "#333333", 1.8, 4)
traces.append(go.Scatter(x=f_out_x, y=f_out_y, xaxis=xa, yaxis=ya, mode="markers", marker=dict(color="#333333", size=8),
                         showlegend=False, hoverinfo="skip"))
line_tr(xa, ya, f_bracket_x, f_bracket_y, "black", 2.2)
text(1294, 1940, "<i>p</i>-value = 0.005", 20, anchor="left")
text(1538, 1899, "Measurement time", 21, bold=True)
text(1204, 2098, "NES of Cytokines_signaling", 21, angle=-90)

# ---------- panel letters ----------
for ch, x, y in (("A", 28, 33), ("B", 19, 983), ("C", 961, 990), ("D", 20, 1405), ("E", 1189, 1438), ("F", 1207, 1895)):
    text(x, y, ch, 38)

fig = go.Figure(data=traces)
fig.update_layout(width=W, height=H, margin=dict(l=0, r=0, t=0, b=0, autoexpand=False), paper_bgcolor="white",
                  font=dict(family=FONT), showlegend=False, shapes=shapes, annotations=notes, **layout)
fig.write_html("out.html", config=dict(displayModeBar=False),
               post_script="document.body.style.margin='0';document.documentElement.style.overflow='hidden';")
